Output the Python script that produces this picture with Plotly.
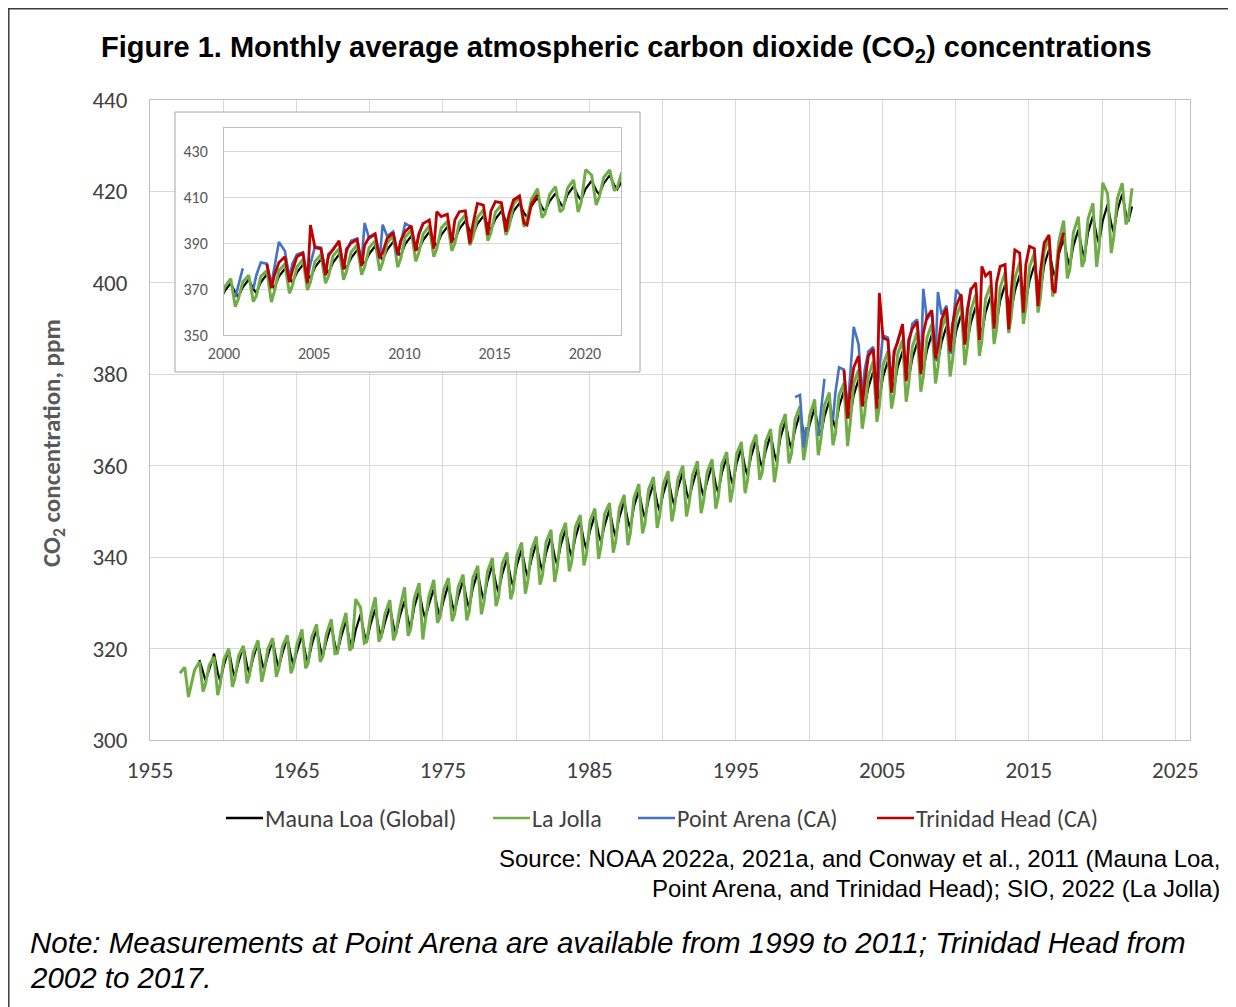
import plotly.graph_objects as go

# ---------------- data (ppm), sampled Jan, May, Aug, Oct of each year ----------------
MONTHS = [1, 5, 8, 10]

mauna_loa_start = 1958
mauna_loa = [
    (None, 317.5, 314.9, 313.0),  # 1958
    (315.4, 318.9, 314.7, 312.9), (316.3, 319.8, 315.6, 313.8), (317.0, 320.5, 316.3, 314.5),
    (317.9, 321.4, 317.2, 315.4), (318.4, 321.9, 317.7, 315.9), (319.0, 322.5, 318.3, 316.5),
    (319.4, 322.9, 318.7, 316.9), (320.8, 324.3, 320.1, 318.3), (321.6, 325.1, 320.9, 319.1),
    (322.5, 326.0, 321.8, 320.0), (324.0, 327.5, 323.3, 321.5), (325.1, 328.6, 324.4, 322.6),
    (325.7, 329.2, 325.0, 323.2), (326.9, 330.4, 326.2, 324.4), (329.1, 332.6, 328.4, 326.6),
    (329.6, 333.1, 328.9, 327.1), (330.5, 334.0, 329.8, 328.0), (331.4, 334.9, 330.7, 328.9),
    (333.2, 336.7, 332.5, 330.7), (334.8, 338.3, 334.1, 332.3), (336.2, 339.7, 335.5, 333.7),
    (338.2, 341.7, 337.5, 335.7), (339.5, 343.0, 338.8, 337.0), (340.9, 344.4, 340.2, 338.4),
    (342.6, 346.1, 341.9, 340.1), (344.3, 347.8, 343.6, 341.8), (345.8, 349.3, 345.1, 343.3),
    (347.0, 350.5, 346.3, 344.5), (348.7, 352.2, 348.0, 346.2), (351.1, 354.6, 350.4, 348.6),
    (352.6, 356.1, 351.9, 350.1), (353.9, 357.4, 353.2, 351.4), (355.1, 358.6, 354.4, 352.6),
    (355.9, 359.4, 355.2, 353.4), (356.6, 360.1, 355.9, 354.1), (358.4, 361.9, 357.7, 355.9),
    (360.4, 363.9, 359.7, 357.9), (362.1, 365.6, 361.4, 359.6), (363.3, 366.8, 362.6, 360.8),
    (366.2, 369.7, 365.5, 363.7), (367.9, 371.4, 367.2, 365.4), (369.1, 372.6, 368.4, 366.6),
    (370.7, 374.2, 370.0, 368.2), (372.9, 376.4, 372.2, 370.4), (375.4, 378.9, 374.7, 372.9),
    (377.1, 380.6, 376.4, 374.6), (379.4, 382.9, 378.7, 376.9), (381.5, 385.0, 380.8, 379.0),
    (383.4, 386.9, 382.7, 380.9), (385.2, 388.7, 384.5, 382.7), (387.0, 390.5, 386.3, 384.5),
    (389.5, 393.0, 388.8, 387.0), (391.3, 394.8, 390.6, 388.8), (393.5, 397.0, 392.8, 391.0),
    (396.1, 399.6, 395.4, 393.6), (398.2, 401.7, 397.5, 395.7), (400.4, 403.9, 399.7, 397.9),
    (403.8, 407.3, 403.1, 401.3), (406.2, 409.7, 405.5, 403.7), (408.1, 411.6, 407.4, 405.6),
    (411.1, 414.6, 410.4, 408.6), (413.6, 417.1, 412.9, 411.1), (415.9, 419.4, 415.2, 413.4),
    (416.7, None, None, None),  # 2022
]

la_jolla_start = 1957
la_jolla = [
    (314.6, 315.9, 309.4, 311.6), (315.3, 317.1, 310.6, 312.3), (316.4, 318.2, 309.8, 312.2),
    (317.6, 320.0, 311.6, 313.4), (318.4, 320.6, 312.4, 314.2), (319.1, 321.8, 312.7, 315.0),
    (319.9, 322.3, 313.8, 315.6), (320.4, 322.9, 314.6, 316.1), (321.0, 324.2, 315.7, 316.8),
    (322.5, 325.3, 317.1, 318.2), (323.1, 326.4, 318.9, 319.0), (324.0, 327.8, 319.6, 320.2),
    (330.8, 329.0, 321.2, 321.5), (326.9, 331.2, 321.5, 322.6), (327.6, 330.6, 321.8, 323.4),
    (328.5, 333.4, 322.8, 324.2), (331.0, 334.3, 322.0, 326.0), (331.5, 335.0, 325.6, 326.8),
    (332.8, 335.4, 326.0, 327.5), (333.5, 336.2, 326.2, 328.0), (335.4, 338.1, 327.5, 330.0),
    (336.9, 339.8, 329.3, 331.2), (338.5, 341.0, 330.8, 332.6), (340.4, 343.2, 332.0, 334.8),
    (341.6, 344.5, 334.0, 336.0), (343.3, 346.0, 334.6, 337.4), (344.8, 347.5, 336.9, 339.0),
    (346.6, 349.2, 338.2, 340.5), (348.0, 350.6, 339.6, 342.3), (349.5, 351.8, 341.0, 343.4),
    (350.8, 353.6, 342.6, 345.2), (353.0, 356.0, 345.2, 347.4), (354.9, 357.5, 346.4, 349.0),
    (356.0, 358.8, 347.8, 350.4), (357.2, 360.0, 348.9, 351.5), (358.0, 361.0, 349.6, 352.3),
    (358.6, 361.4, 350.6, 353.0), (360.4, 363.0, 352.0, 354.9), (362.5, 365.2, 354.0, 356.8),
    (364.2, 366.8, 356.9, 358.5), (365.4, 368.0, 356.4, 359.8), (368.5, 371.3, 360.5, 362.6),
    (370.2, 373.0, 361.2, 364.4), (371.0, 374.5, 362.3, 365.5), (373.2, 376.0, 364.5, 367.0),
    (375.5, 378.0, 364.3, 369.0), (378.0, 381.0, 368.1, 371.5), (379.6, 382.8, 369.6, 373.0),
    (382.0, 385.0, 372.5, 375.5), (384.4, 387.5, 374.0, 377.8), (386.0, 389.2, 376.2, 379.5),
    (388.0, 391.0, 378.0, 381.5), (390.0, 393.0, 379.5, 383.2), (392.5, 395.6, 382.0, 385.8),
    (394.0, 397.4, 384.0, 387.5), (396.5, 399.5, 386.6, 389.8), (399.0, 402.3, 389.0, 392.5),
    (401.0, 404.5, 391.0, 394.5), (403.4, 406.5, 393.5, 396.8), (406.8, 410.0, 397.0, 400.2),
    (409.0, 413.6, 401.0, 402.8), (411.0, 414.5, 403.5, 404.8), (414.0, 417.4, 403.5, 407.6),
    (421.9, 419.5, 406.5, 410.0), (418.5, 421.8, 412.8, 414.0),
    (420.7, None, None, None),  # 2022
]

point_arena_start = 1999
point_arena = [
    (375.0, 375.5, 364.0, 368.5),  # 1999
    (None, None, 366.5, 372.0),
    (379.0, None, 370.0, 376.0),
    (381.5, 381.0, 372.0, 379.0),
    (390.4, 386.5, 375.0, 381.0),
    (385.0, 386.0, 374.5, 381.0),
    (388.5, 388.0, 378.0, 384.0),
    (387.5, 390.5, 379.0, 386.0),
    (391.0, 392.0, 381.5, 398.7),
    (392.0, 393.5, 383.0, 398.0),
    (393.0, 395.0, 384.5, 390.0),
    (398.5, 397.0, 387.5, 393.0),
    (399.0, None, None, None),  # 2011
]

trinidad_head_start = 2002
trinidad_head = [
    (None, 380.9, 370.3, 376.0),  # 2002
    (381.5, 384.0, 373.0, 378.0),
    (384.0, 385.5, 372.5, 397.8),
    (388.0, 387.5, 376.0, 385.0),
    (387.0, 391.0, 378.5, 387.5),
    (390.0, 391.5, 380.0, 389.0),
    (392.5, 394.0, 383.5, 386.0),
    (392.0, 394.5, 385.0, 391.0),
    (395.0, 397.5, 386.5, 394.0),
    (398.5, 400.0, 387.5, 403.6),
    (401.5, 402.5, 390.0, 400.0),
    (403.6, 404.0, 389.8, 398.0),
    (407.2, 406.5, 393.5, 404.0),
    (408.0, 407.5, 394.9, 402.5),
    (408.7, 410.5, 398.6, 397.8),
    (407.0, 411.0, None, None),  # 2017
]

series_names = ["Mauna Loa (Global)", "La Jolla", "Point Arena (CA)", "Trinidad Head (CA)"]
series_colors = ["#000000", "#70AD47", "#4472C4", "#C00000"]

inset_x_ticks = [2000, 2005, 2010, 2015, 2020]
inset_y_ticks = [350, 370, 390, 410, 430]


def series_xy(start, rows):
    xs, ys = [], []
    for i, row in enumerate(rows):
        for m, v in zip(MONTHS, row):
            xs.append(start + i + (m - 0.5) / 12.0)
            ys.append(v)
    return xs, ys


# ---------------- layout geometry (page pixels; page body has an 8px margin) ----------------
OFF = 8
W, H = 1236 - OFF, 1007 - OFF
ML, MR, MT, MB = 150 - OFF, 46, 100 - OFF, 267
PW, PH = W - ML - MR, H - MT - MB
XR = [1955, 2026]
YR = [300, 440]


def px(x):
    return (x - OFF - ML) / PW


def py(y):
    return (H - MB - (y - OFF)) / PH


def dx(x):
    return XR[0] + px(x) * (XR[1] - XR[0])


def dy(y):
    return YR[0] + py(y) * (YR[1] - YR[0])


fig = go.Figure()

# white inset chart area (hides main gridlines behind the inset)
bx0, bx1, by0, by1 = dx(175), dx(640), dy(372), dy(112)
fig.add_trace(go.Scatter(x=[bx0, bx1, bx1, bx0, bx0], y=[by0, by0, by1, by1, by0],
                         mode="lines", fill="toself", fillcolor="white",
                         line=dict(color="#a6a6a6", width=1), hoverinfo="skip",
                         showlegend=False, xaxis="x", yaxis="y"))

all_series = [
    (mauna_loa_start, mauna_loa),
    (la_jolla_start, la_jolla),
    (point_arena_start, point_arena),
    (trinidad_head_start, trinidad_head),
]
widths = [2.2, 3.0, 2.6, 2.8]

for axes in [("x", "y"), ("x2", "y2")]:
    for idx in range(4):
        start, rows = all_series[idx]
        xs, ys = series_xy(start, rows)
        fig.add_trace(go.Scatter(
            x=xs, y=ys, mode="lines", name=series_names[idx],
            line=dict(color=series_colors[idx], width=widths[idx]),
            xaxis=axes[0], yaxis=axes[1], showlegend=False, connectgaps=False,
        ))

tick_font = dict(family="Carlito, Lato, sans-serif", size=23, color="#404040")
inset_font = dict(family="Carlito, Lato, sans-serif", size=16, color="#595959")
fig.update_layout(
    width=W, height=H, autosize=False,
    margin=dict(l=ML, r=MR, t=MT, b=MB),
    paper_bgcolor="white", plot_bgcolor="white",
    showlegend=False,
    xaxis=dict(range=XR, tick0=1955, dtick=10,
               minor=dict(tick0=1955, dtick=5, showgrid=True, gridcolor="#d9d9d9", ticks=""),
               showgrid=True, gridcolor="#d9d9d9", gridwidth=1, zeroline=False,
               showline=True, linecolor="#bfbfbf", linewidth=1, mirror=True,
               ticks="", tickfont=tick_font, ticklabelstandoff=9),
    yaxis=dict(range=YR, tick0=300, dtick=20,
               showgrid=True, gridcolor="#d9d9d9", gridwidth=1, zeroline=False,
               showline=True, linecolor="#bfbfbf", linewidth=1, mirror=True,
               ticks="", tickfont=tick_font, ticklabelstandoff=17),
    xaxis2=dict(domain=[px(224), px(621)], range=[2000, 2022], tickvals=inset_x_ticks,
                anchor="y2", showgrid=False, zeroline=False,
                showline=True, linecolor="#bfbfbf", linewidth=1, mirror=True,
                ticks="", ticklabelstandoff=4, tickfont=inset_font),
    yaxis2=dict(domain=[py(335), py(128)], range=[350, 440], tickvals=inset_y_ticks,
                anchor="x2", showgrid=True, gridcolor="#d9d9d9", zeroline=False,
                showline=True, linecolor="#bfbfbf", linewidth=1, mirror=True,
                ticks="", ticklabelstandoff=12, tickfont=inset_font),
)

shapes = []
# outer figure frame (top and left)
shapes.append(dict(type="line", xref="paper", yref="paper", x0=px(8), x1=px(1250),
                   y0=py(8.8), y1=py(8.8), line=dict(color="#3a3a3a", width=1.5), layer="above"))
shapes.append(dict(type="line", xref="paper", yref="paper", x0=px(8.8), x1=px(8.8),
                   y0=py(8), y1=py(1020), line=dict(color="#3a3a3a", width=1.5), layer="above"))

annotations = []
legend_x = [226, 493, 638, 877]
for lx, name, col in zip(legend_x, series_names, series_colors):
    shapes.append(dict(type="line", xref="paper", yref="paper", x0=px(lx), x1=px(lx + 37),
                       y0=py(818), y1=py(818), line=dict(color=col, width=2.6)))
    annotations.append(dict(text=name, xref="paper", yref="paper", x=px(lx + 37), y=py(818),
                            xanchor="left", yanchor="middle", showarrow=False,
                            font=dict(family="Carlito, Lato, sans-serif", size=24, color="#404040")))

annotations.append(dict(
    text="<b>Figure 1. Monthly average atmospheric carbon dioxide (CO<sub>2</sub>) concentrations</b>",
    xref="paper", yref="paper", x=px(626), y=py(49), xanchor="center", yanchor="middle",
    showarrow=False, font=dict(family="Liberation Sans, Arial, sans-serif", size=29, color="black")))
annotations.append(dict(
    text="<b>CO<sub>2</sub> concentration, ppm</b>", textangle=-90,
    xref="paper", yref="paper", x=px(53), y=py(443), xanchor="center", yanchor="middle",
    showarrow=False, font=dict(family="Carlito, Lato, sans-serif", size=25, color="#595959")))
annotations.append(dict(
    text="Source: NOAA 2022a, 2021a, and Conway et al., 2011 (Mauna Loa,",
    xref="paper", yref="paper", x=px(1222), y=py(858), xanchor="right", yanchor="middle",
    showarrow=False, font=dict(family="Liberation Sans, Arial, sans-serif", size=24, color="black")))
annotations.append(dict(
    text="Point Arena, and Trinidad Head); SIO, 2022 (La Jolla)",
    xref="paper", yref="paper", x=px(1222), y=py(888), xanchor="right", yanchor="middle",
    showarrow=False, font=dict(family="Liberation Sans, Arial, sans-serif", size=24, color="black")))
annotations.append(dict(
    text="<i>Note: Measurements at Point Arena are available from 1999 to 2011; Trinidad Head from</i>",
    xref="paper", yref="paper", x=px(28), y=py(942), xanchor="left", yanchor="middle",
    showarrow=False, font=dict(family="Liberation Sans, Arial, sans-serif", size=29.5, color="black")))
annotations.append(dict(
    text="<i>2002 to 2017.</i>",
    xref="paper", yref="paper", x=px(28), y=py(977), xanchor="left", yanchor="middle",
    showarrow=False, font=dict(family="Liberation Sans, Arial, sans-serif", size=29.5, color="black")))

fig.update_layout(shapes=shapes, annotations=annotations)
fig.write_html("out.html")
